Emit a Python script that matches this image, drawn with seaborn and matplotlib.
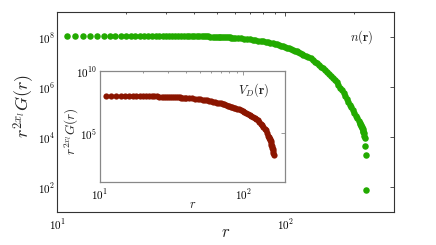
import numpy as np
import pandas as pd
import matplotlib
matplotlib.use("Agg")
import matplotlib.pyplot as plt
from matplotlib.ticker import FixedLocator, LogLocator, NullLocator, FuncFormatter, NullFormatter
import seaborn as sns

# ---------------- data ----------------
green_r = [11, 12, 13, 14, 15, 16, 17, 18, 19, 20, 21, 22, 23, 24, 25, 26, 27, 28, 29, 30,
           31, 32, 33, 34, 35, 36, 37, 38, 39, 40, 41, 42, 43, 44, 45, 46, 47, 48, 49, 50,
           51, 52, 53, 54, 55, 56, 57, 58, 59, 60,
           62, 64, 66, 68, 70, 72, 74, 76, 78, 80, 82, 84, 86, 88, 90, 92, 94, 96, 98, 100,
           102, 104, 106, 108, 110, 112, 114, 116, 118, 120,
           123, 126, 129, 132, 135, 138, 141, 144, 147, 150, 153, 156, 159, 162, 165, 168,
           171, 174, 177, 180, 183, 186, 189, 192, 195, 198, 201, 204, 207, 210,
           212, 213, 214, 215, 216, 217, 218, 219, 220, 221, 222, 223, 224, 225, 226]
green_log10 = [8.07, 8.07, 8.07, 8.07, 8.07, 8.07, 8.07, 8.07, 8.07, 8.07, 8.07, 8.07,
               8.06, 8.06, 8.06, 8.06, 8.06, 8.06, 8.06, 8.06, 8.06, 8.06, 8.06, 8.06,
               8.05, 8.05, 8.05, 8.05, 8.05, 8.05, 8.05,
               8.04, 8.04, 8.04, 8.04, 8.04,
               8.03, 8.03, 8.03, 8.03, 8.03,
               8.02, 8.02, 8.01, 8.01, 8.00, 8.00, 7.99, 7.99, 7.98,
               7.97, 7.96, 7.95, 7.93, 7.92, 7.90, 7.89, 7.87, 7.85, 7.84, 7.82, 7.81, 7.79,
               7.77, 7.74, 7.72, 7.69, 7.67, 7.64, 7.62, 7.59, 7.57, 7.54, 7.51, 7.47, 7.44,
               7.41, 7.37, 7.34, 7.31,
               7.26, 7.21, 7.15, 7.08, 7.02, 6.95, 6.88, 6.82, 6.75, 6.67, 6.59, 6.51, 6.43,
               6.35, 6.27, 6.19, 6.09, 5.98, 5.87, 5.76, 5.65, 5.53, 5.42, 5.30, 5.19, 5.08,
               4.97, 4.86, 4.75, 4.63,
               4.55, 4.51, 4.47, 4.44, 4.40, 4.36, 4.31, 4.26, 4.21, 4.15, 4.06, 3.96, 3.64,
               3.27, 1.88]

red_r = [11, 12, 13, 14, 15, 16, 17, 18, 19, 20, 21, 22, 23, 24, 25, 26, 27, 28, 29, 30,
         31, 32, 33, 34, 35, 36, 37, 38, 39, 40,
         42, 44, 46, 48, 50, 52, 54, 56, 58, 60, 62, 64, 66, 68, 70, 72, 74, 76, 78, 80,
         82, 84, 86, 88, 90,
         93, 96, 99, 102, 105, 108, 111, 114, 117, 120, 123, 126, 129, 132, 135, 138, 141,
         144, 147, 150,
         151, 152, 153, 154, 155, 156, 157, 158, 159, 160, 161, 162, 163]
red_log10 = [8.00, 8.00, 8.00, 8.00, 7.99, 7.99, 7.99, 7.98, 7.98, 7.97, 7.97, 7.96, 7.96,
             7.95, 7.95, 7.94, 7.93, 7.93, 7.92, 7.91, 7.91, 7.90, 7.89, 7.88, 7.87, 7.86,
             7.85, 7.84, 7.83, 7.82,
             7.80, 7.78, 7.76, 7.74, 7.72, 7.69, 7.65, 7.62, 7.59, 7.55, 7.52, 7.49, 7.45,
             7.42, 7.38, 7.34, 7.30, 7.25, 7.21, 7.17, 7.13, 7.09, 7.05, 7.00, 6.96,
             6.90, 6.83, 6.75, 6.67, 6.59, 6.51, 6.43, 6.35, 6.27, 6.19, 6.11, 6.02, 5.88,
             5.75, 5.61, 5.48, 5.34, 5.19, 4.96, 4.73,
             4.65, 4.58, 4.50, 4.42, 4.30, 4.18, 4.05, 3.92, 3.80, 3.67, 3.54, 3.40, 3.23]

main_yticks = [1e2, 1e4, 1e6, 1e8]
inset_yticks = [1e5, 1e10]
xticks = [1e1, 1e2]

green_label = r"$n(\mathbf{r})$"
red_label = r"$V_D(\mathbf{r})$"
ylabel = r"$r^{2x_l}G(r)$"
xlabel = r"$r$"

# ---------------- style ----------------
sns.set_theme(style="white")
plt.rcParams["font.family"] = ["DejaVu Serif", "DejaVu Sans"]
plt.rcParams["mathtext.fontset"] = "cm"

green_df = pd.DataFrame({"r": green_r, "val": 10 ** np.array(green_log10)})
red_df = pd.DataFrame({"r": red_r, "val": 10 ** np.array(red_log10)})

fig = plt.figure(figsize=(4.36, 2.45), dpi=100)
fig.patch.set_facecolor("white")

pow_fmt = FuncFormatter(lambda v, p: r"$10^{%d}$" % int(round(np.log10(v))))


def style_axes(ax, spine_color, lw):
    for s in ax.spines.values():
        s.set_color(spine_color)
        s.set_linewidth(lw)
        s.set_visible(True)
    ax.tick_params(which="both", direction="in", top=True, right=True,
                   color=spine_color, width=0.6, labelsize=8, labelcolor="black")
    ax.tick_params(which="major", length=2.6)
    ax.tick_params(which="minor", length=1.6)


# main axes
ax = fig.add_axes([0.131, 0.1347, 0.773, 0.815])
sns.scatterplot(data=green_df, x="r", y="val", ax=ax, color="#22aa00",
                s=22, linewidth=0, legend=False)
ax.set_xscale("log")
ax.set_yscale("log")
ax.set_xlim(10, 300)
ax.set_ylim(10, 1e9)
ax.xaxis.set_major_locator(FixedLocator(xticks))
ax.xaxis.set_minor_locator(LogLocator(base=10, subs=np.arange(2, 10)))
ax.xaxis.set_minor_formatter(NullFormatter())
ax.xaxis.set_major_formatter(pow_fmt)
ax.yaxis.set_major_locator(FixedLocator(main_yticks))
ax.yaxis.set_minor_locator(NullLocator())
ax.yaxis.set_major_formatter(pow_fmt)
style_axes(ax, "#333333", 0.8)
ax.tick_params(axis="y", pad=1.5)
ax.tick_params(axis="x", pad=4)
ax.set_xlabel(xlabel, fontsize=12)
ax.set_ylabel(ylabel, fontsize=13)
ax.xaxis.set_label_coords(0.5, -0.105)
ax.yaxis.set_label_coords(-0.098, 0.53)
ax.xaxis.label.set_va("center")
ax.yaxis.label.set_va("center")
ax.text(0.939, 0.878, green_label, transform=ax.transAxes, ha="right", va="center",
        fontsize=9, color="#222222")

# inset axes
ins = fig.add_axes([0.229, 0.256, 0.425, 0.454])
sns.scatterplot(data=red_df, x="r", y="val", ax=ins, color="#8b1500",
                s=20, linewidth=0, legend=False)
ins.set_xscale("log")
ins.set_yscale("log")
ins.set_xlim(10, 196)
ins.set_ylim(10, 1e10)
ins.xaxis.set_major_locator(FixedLocator(xticks))
ins.xaxis.set_minor_locator(LogLocator(base=10, subs=np.arange(2, 10)))
ins.xaxis.set_minor_formatter(NullFormatter())
ins.xaxis.set_major_formatter(pow_fmt)
ins.yaxis.set_major_locator(FixedLocator(inset_yticks))
ins.yaxis.set_minor_locator(NullLocator())
ins.yaxis.set_major_formatter(pow_fmt)
style_axes(ins, "#888888", 0.9)
ins.tick_params(axis="y", pad=2)
ins.tick_params(axis="x", pad=4)
ins.set_xlabel(xlabel, fontsize=9)
ins.set_ylabel(ylabel, fontsize=9.5)
ins.xaxis.set_label_coords(0.5, -0.204)
ins.yaxis.set_label_coords(-0.151, 0.455)
ins.xaxis.label.set_va("center")
ins.yaxis.label.set_va("center")
ins.text(0.914, 0.829, red_label, transform=ins.transAxes, ha="right", va="center",
         fontsize=9, color="#222222")

fig.savefig("out.png", dpi=100, facecolor="white")
